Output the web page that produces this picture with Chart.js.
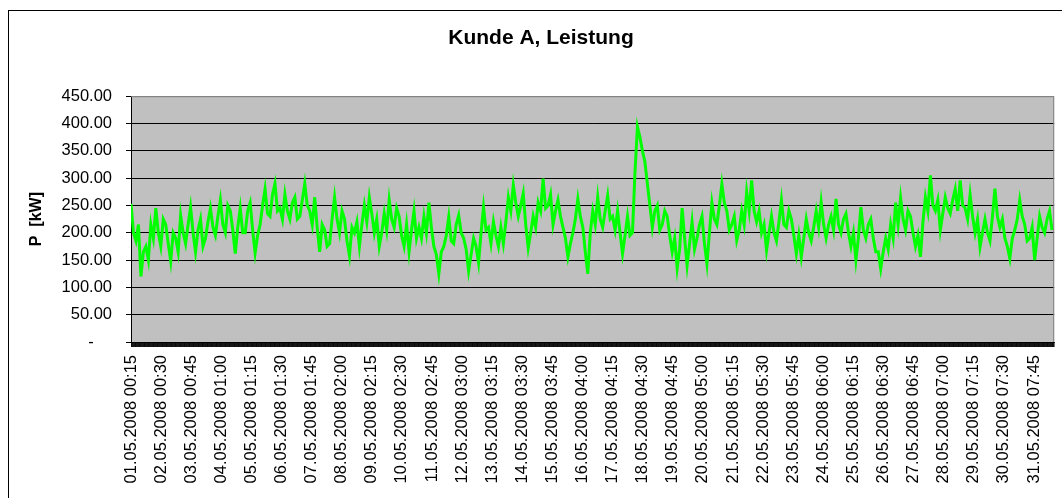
<!DOCTYPE html>
<html>
<head>
<meta charset="utf-8">
<script src="https://cdn.jsdelivr.net/npm/chart.js@4/dist/chart.umd.min.js"></script>
<style>
  html, body { margin: 0; padding: 0; background: #fff; overflow: hidden; }
  #wrap { position: relative; width: 1062px; height: 498px; overflow: hidden; }
  #frame { position: absolute; left: 8px; top: 10px; width: 1100px; height: 600px; border: 1px solid #000; box-sizing: border-box; }
  canvas { position: absolute; left: 0; top: 0; }
</style>
</head>
<body>
<div id="wrap">
  <div id="frame"></div>
  <canvas id="chart" width="1082" height="498"></canvas>
</div>
<script>
// tick labels (one every 97 quarter-hour intervals)
const xLabels = [
  "01.05.2008 00:15", "02.05.2008 00:30", "03.05.2008 00:45", "04.05.2008 01:00",
  "05.05.2008 01:15", "06.05.2008 01:30", "07.05.2008 01:45", "08.05.2008 02:00",
  "09.05.2008 02:15", "10.05.2008 02:30", "11.05.2008 02:45", "12.05.2008 03:00",
  "13.05.2008 03:15", "14.05.2008 03:30", "15.05.2008 03:45", "16.05.2008 04:00",
  "17.05.2008 04:15", "18.05.2008 04:30", "19.05.2008 04:45", "20.05.2008 05:00",
  "21.05.2008 05:15", "22.05.2008 05:30", "23.05.2008 05:45", "24.05.2008 06:00",
  "25.05.2008 06:15", "26.05.2008 06:30", "27.05.2008 06:45", "28.05.2008 07:00",
  "29.05.2008 07:15", "30.05.2008 07:30", "31.05.2008 07:45"
];
const labelEvery = 97;
const intervalCount = 2976;   // 31 days x 96 quarter hours

// power in kW, one reading every 8 quarter-hour intervals
const sampleStep = 8;
const powerKW = [
  253, 200, 185, 215, 120, 165, 175, 150, 215, 190,
  245, 200, 175, 225, 215, 180, 148, 200, 190, 165,
  232, 200, 180, 215, 247, 200, 165, 205, 225, 175,
  190, 220, 245, 210, 195, 230, 260, 215, 200, 250,
  240, 205, 162, 210, 245, 200, 200, 240, 255, 205,
  163, 195, 215, 250, 280, 235, 230, 270, 290, 240,
  245, 225, 270, 240, 225, 255, 265, 225, 230, 260,
  290, 250, 240, 215, 265, 210, 165, 215, 205, 175,
  180, 225, 265, 225, 200, 240, 225, 185, 158, 210,
  200, 220, 175, 215, 250, 220, 265, 235, 200, 225,
  175, 200, 235, 205, 260, 225, 210, 245, 230, 195,
  175, 215, 165, 205, 240, 190, 210, 190, 230, 200,
  255, 210, 175, 160, 125, 165, 175, 195, 229, 185,
  180, 215, 232, 200, 190, 170, 130, 160, 190, 175,
  145, 200, 247, 205, 210, 180, 220, 195, 175, 210,
  180, 220, 265, 240, 287, 255, 230, 250, 272, 215,
  172, 200, 230, 210, 255, 240, 299, 245, 250, 270,
  215, 240, 260, 230, 210, 190, 156, 180, 200, 225,
  262, 230, 210, 165, 125, 200, 240, 215, 265, 225,
  210, 240, 268, 225, 230, 205, 240, 200, 162, 195,
  230, 195, 200, 310, 394, 375, 350, 330, 290, 250,
  210, 240, 250, 205, 215, 240, 230, 195, 165, 190,
  135, 170, 245, 190, 140, 180, 220, 170, 190, 215,
  230, 180, 143, 200, 255, 225, 215, 250, 289, 255,
  240, 205, 215, 230, 186, 205, 240, 215, 275, 240,
  296, 240, 220, 240, 200, 215, 168, 200, 230, 200,
  185, 220, 260, 215, 210, 240, 225, 195, 162, 195,
  156, 190, 225, 200, 185, 210, 240, 210, 256, 215,
  190, 215, 230, 205, 262, 215, 200, 225, 235, 200,
  175, 200, 150, 190, 247, 205, 190, 215, 225, 190,
  165, 165, 134, 165, 190, 170, 215, 190, 255, 215,
  264, 225, 205, 240, 230, 200, 175, 195, 156, 220,
  265, 240, 305, 250, 240, 260, 205, 235, 265, 245,
  235, 260, 280, 240, 296, 250, 245, 225, 270, 230,
  200, 225, 174, 200, 225, 200, 185, 230, 281, 230,
  210, 225, 190, 175, 153, 190, 205, 225, 260, 230,
  215, 185, 190, 210, 150, 190, 230, 210, 200, 225,
  240, 205
];

const FONT = "'Liberation Sans', Arial, sans-serif";

const plotBackground = {
  id: "plotBackground",
  beforeDraw(chart) {
    const { ctx, chartArea: a } = chart;
    ctx.save();
    ctx.fillStyle = "#C0C0C0";
    ctx.fillRect(a.left, a.top, a.right - a.left, a.bottom - a.top);
    ctx.restore();
  },
  afterDraw(chart) {
    const { ctx, chartArea: a } = chart;
    ctx.save();
    ctx.strokeStyle = "#808080";
    ctx.lineWidth = 1;
    ctx.beginPath();
    ctx.moveTo(a.left, a.top + 0.5);
    ctx.lineTo(a.right - 0.5, a.top + 0.5);
    ctx.lineTo(a.right - 0.5, a.bottom);
    ctx.stroke();
    ctx.restore();
  }
};

const allTicks = [];
for (let i = 0; i < intervalCount; i++) allTicks.push({ value: i });

new Chart(document.getElementById("chart"), {
  type: "line",
  data: {
    datasets: [{
      label: "Leistung",
      data: powerKW.map((v, i) => ({ x: i * sampleStep, y: v })),
      borderColor: "#00FF00",
      borderWidth: 3,
      pointRadius: 0,
      tension: 0,
      fill: false
    }]
  },
  options: {
    responsive: false,
    animation: false,
    devicePixelRatio: 1,
    layout: { padding: { left: 22, right: 22, top: 0, bottom: 0 } },
    plugins: {
      legend: { display: false },
      tooltip: { enabled: false },
      title: {
        display: true,
        text: "Kunde A, Leistung",
        color: "#000",
        font: { family: FONT, size: 21, weight: "bold" },
        padding: { top: 26, bottom: 45 }
      }
    },
    scales: {
      x: {
        type: "linear",
        min: 0,
        max: intervalCount - 1,
        afterBuildTicks: (scale) => { scale.ticks = allTicks.slice(); },
        afterFit: (scale) => { scale.height = 156; },
        grid: { drawOnChartArea: false, drawTicks: true, tickLength: 5, color: "rgba(0,0,0,0.7)", lineWidth: 0.8 },
        border: { display: true, color: "#000", width: 1 },
        ticks: {
          autoSkip: false,
          minRotation: 90,
          maxRotation: 90,
          padding: 8,
          color: "#000",
          font: { family: FONT, size: 16.5 },
          callback: (value) => (value % labelEvery === 0 ? xLabels[value / labelEvery] : "")
        }
      },
      y: {
        min: 0,
        max: 450,
        afterFit: (scale) => { scale.width = 109; },
        grid: {
          color: (c) => (c.tick && c.tick.value === 450 ? "#909090" : "#000"),
          tickColor: "#000",
          tickLength: 5,
          lineWidth: 1
        },
        border: { display: true, color: "#000", width: 1 },
        title: {
          display: true,
          text: "P  [kW]",
          color: "#000",
          font: { family: FONT, size: 16, weight: "bold" },
          padding: { top: 5, bottom: 0 }
        },
        ticks: {
          stepSize: 50,
          padding: 14,
          color: "#000",
          font: { family: FONT, size: 16.5 },
          callback: (v) => (v === 0 ? "-    " : v.toFixed(2))
        }
      }
    }
  },
  plugins: [plotBackground]
});
</script>
</body>
</html>
